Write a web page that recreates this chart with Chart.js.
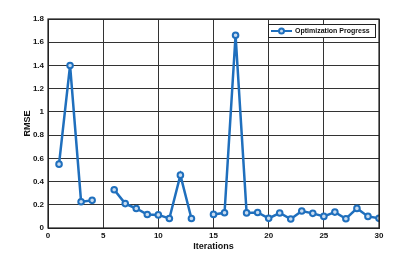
<!DOCTYPE html>
<html>
<head>
<meta charset="utf-8">
<script src="https://cdn.jsdelivr.net/npm/chart.js@4"></script>
<style>
    html, body { margin: 0; padding: 0; background: #fff; }
    #wrap { width: 401px; height: 254px; }
</style>
</head>
<body>
<div id="wrap"><canvas id="chart-area" width="401" height="254"></canvas></div>
<script>
var iterations = [1, 2, 3, 4, 5, 6, 7, 8, 9, 10, 11, 12, 13, 14, 15,
                  16, 17, 18, 19, 20, 21, 22, 23, 24, 25, 26, 27, 28, 29, 30];
var rmse = [0.55, 1.40, 0.226, 0.238, null, 0.33, 0.21, 0.168, 0.116, 0.113, 0.082, 0.455, 0.082, null, 0.117,
            0.131, 1.66, 0.13, 0.134, 0.083, 0.129, 0.077, 0.146, 0.126, 0.10, 0.137, 0.08, 0.169, 0.10, 0.083];
var seriesName = 'Optimization Progress';
var xTicks = [0, 5, 10, 15, 20, 25, 30];
var yTicks = [0, 0.2, 0.4, 0.6, 0.8, 1, 1.2, 1.4, 1.6, 1.8];

var lineColor = '#1f6fbd';
var tickFont = { family: 'Liberation Sans', size: 8, weight: 'bold' };

var points = iterations.map(function(x, i) {
    return { x: x, y: rmse[i] };
});

// legend drawn inside the plot, top right, like the original figure
var insideLegend = {
    id: 'insideLegend',
    afterDraw: function(chart) {
        var ctx = chart.ctx,
            area = chart.chartArea,
            ds = chart.data.datasets[0];
        var w = 107, h = 13;
        var x = area.right - 4 - w, y = area.top + 5;
        ctx.save();
        ctx.fillStyle = '#fff';
        ctx.fillRect(x, y, w, h);
        ctx.strokeStyle = '#222';
        ctx.lineWidth = 1;
        ctx.strokeRect(x + 0.5, y + 0.5, w, h);
        ctx.strokeStyle = ds.borderColor;
        ctx.lineWidth = 2;
        ctx.beginPath();
        ctx.moveTo(x + 3, y + h / 2 + 0.5);
        ctx.lineTo(x + 24, y + h / 2 + 0.5);
        ctx.stroke();
        ctx.beginPath();
        ctx.arc(x + 13.5, y + h / 2 + 0.5, 2.5, 0, Math.PI * 2);
        ctx.fillStyle = ds.pointBackgroundColor;
        ctx.fill();
        ctx.stroke();
        ctx.fillStyle = '#111';
        ctx.font = 'bold 7px "Liberation Sans"';
        ctx.textBaseline = 'middle';
        ctx.fillText(ds.label, x + 27, y + h / 2 + 1);
        ctx.restore();
    }
};

// dark frame around the plot area
var frame = {
    id: 'frame',
    afterDraw: function(chart) {
        var ctx = chart.ctx, a = chart.chartArea;
        ctx.save();
        ctx.strokeStyle = '#222';
        ctx.lineWidth = 1.2;
        ctx.strokeRect(a.left, a.top, a.right - a.left, a.bottom - a.top);
        ctx.restore();
    }
};

var config = {
    type: 'line',
    data: {
        datasets: [{
            label: seriesName,
            data: points,
            borderColor: lineColor,
            borderWidth: 2.5,
            pointRadius: 2.8,
            pointBorderWidth: 2,
            pointBackgroundColor: '#c9dcf0',
            pointBorderColor: lineColor,
            spanGaps: false,
            tension: 0
        }]
    },
    options: {
        responsive: false,
        animation: false,
        layout: { padding: { top: 19, right: 22, left: 22, bottom: 2 } },
        plugins: {
            legend: { display: false },
            tooltip: { enabled: false }
        },
        scales: {
            x: {
                type: 'linear',
                min: 0,
                max: 30,
                afterBuildTicks: function(scale) {
                    scale.ticks = xTicks.map(function(v) { return { value: v }; });
                },
                afterFit: function(scale) { scale.height = 24; },
                ticks: { color: '#111', font: tickFont, padding: 3, maxRotation: 0 },
                grid: { color: '#333', lineWidth: 1, drawTicks: false },
                border: { color: '#222' },
                title: {
                    display: true, text: 'Iterations', color: '#111',
                    font: { family: 'Liberation Sans', size: 9, weight: 'bold' },
                    padding: { top: 0, bottom: 0 }
                }
            },
            y: {
                min: 0,
                max: 1.8,
                afterBuildTicks: function(scale) {
                    scale.ticks = yTicks.map(function(v) { return { value: v }; });
                },
                afterFit: function(scale) { scale.width = 26; },
                ticks: {
                    color: '#111', font: tickFont, padding: 4,
                    callback: function(v) { return String(parseFloat(v.toFixed(1))); }
                },
                grid: { color: '#333', lineWidth: 1, drawTicks: false },
                border: { color: '#222' },
                title: {
                    display: true, text: 'RMSE', color: '#111',
                    font: { family: 'Liberation Sans', size: 9, weight: 'bold' },
                    padding: { top: 0, bottom: 4 }
                }
            }
        }
    },
    plugins: [frame, insideLegend]
};

var ctx = document.getElementById('chart-area').getContext('2d');
window.myLine = new Chart(ctx, config);
</script>
</body>
</html>
